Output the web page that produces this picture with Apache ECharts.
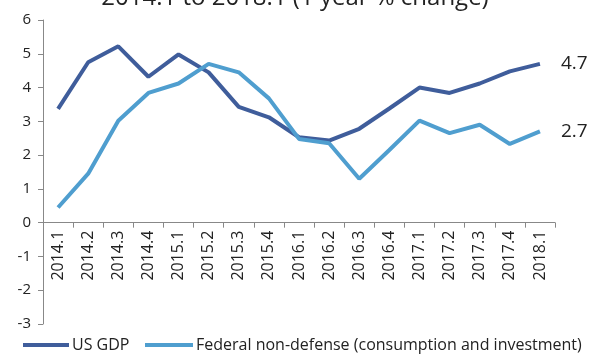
<!DOCTYPE html>
<html>
<head>
<meta charset="utf-8">
<script src="https://cdn.jsdelivr.net/npm/echarts@6/dist/echarts.min.js"></script>
<style>html,body{margin:0;padding:0;background:#fff}#c{width:590px;height:358px}</style>
</head>
<body>
<div id="c"></div>
<script>
// Quarterly periods
const quarters = ['2014.1','2014.2','2014.3','2014.4','2015.1','2015.2','2015.3','2015.4',
  '2016.1','2016.2','2016.3','2016.4','2017.1','2017.2','2017.3','2017.4','2018.1'];
// 1-year % change
const usGdp = [3.37, 4.75, 5.22, 4.32, 4.98, 4.45, 3.43, 3.12, 2.53, 2.43, 2.78, 3.38, 4.0, 3.84, 4.12, 4.48, 4.7];
const federalNonDefense = [0.45, 1.45, 3.02, 3.84, 4.12, 4.7, 4.45, 3.68, 2.48, 2.35, 1.3, 2.15, 3.02, 2.65, 2.9, 2.33, 2.7];
const yTicks = [-3, 6, 1];

const FONT = '"Open Sans", "Liberation Sans", sans-serif';
const GRID = { left: 43, right: 35, top: 20, bottom: 34 };
const H = 358;
// shift the category axis up so it sits on the zero line
const plotH = H - GRID.top - GRID.bottom;
const zeroShift = plotH * (0 - yTicks[0]) / (yTicks[1] - yTicks[0]);

const chart = echarts.init(document.getElementById('c'));
chart.setOption({
  animation: false,
  title: {
    text: '2014.1 to 2018.1 (1 year % change)',
    left: 'center', top: -19,
    textStyle: { fontFamily: FONT, fontSize: 24, fontWeight: 'normal', color: '#222' }
  },
  grid: Object.assign({ containLabel: false }, GRID),
  legend: [
    {
      bottom: 0, left: 18, itemWidth: 46, itemHeight: 4, icon: 'rect', itemGap: 0,
      textStyle: { fontFamily: FONT, fontSize: 16, color: '#222', padding: [0, 0, 0, -2] },
      data: ['US GDP']
    },
    {
      bottom: 0, left: 140, itemWidth: 48, itemHeight: 4, icon: 'rect', itemGap: 0,
      textStyle: { fontFamily: FONT, fontSize: 16, color: '#222', padding: [0, 0, 0, -2] },
      data: ['Federal non-defense (consumption and investment)']
    }
  ],
  xAxis: {
    type: 'category', data: quarters, boundaryGap: true,
    offset: -zeroShift,
    axisLine: { onZero: false, lineStyle: { color: '#888' } },
    axisTick: { show: true, length: 5, lineStyle: { color: '#888' } },
    axisLabel: { rotate: 90, fontFamily: FONT, fontSize: 16, color: '#222', margin: 8, interval: 0 }
  },
  yAxis: {
    type: 'value', min: yTicks[0], max: yTicks[1], interval: yTicks[2],
    splitLine: { show: false },
    axisLine: { show: true, lineStyle: { color: '#888' } },
    axisTick: { show: true, length: 5, lineStyle: { color: '#888' } },
    axisLabel: { fontFamily: FONT, fontSize: 15, color: '#222', margin: 12 }
  },
  series: [
    {
      name: 'US GDP', type: 'line', data: usGdp, showSymbol: false,
      lineStyle: { color: '#3F5D9B', width: 4 }, itemStyle: { color: '#3F5D9B' },
      endLabel: { show: true, formatter: p => p.value.toFixed(1), fontFamily: FONT, fontSize: 19, color: '#222', distance: 21 }
    },
    {
      name: 'Federal non-defense (consumption and investment)', type: 'line', data: federalNonDefense, showSymbol: false,
      lineStyle: { color: '#4F9ECF', width: 4 }, itemStyle: { color: '#4F9ECF' },
      endLabel: { show: true, formatter: p => p.value.toFixed(1), fontFamily: FONT, fontSize: 19, color: '#222', distance: 21 }
    }
  ]
});
</script>
</body>
</html>
